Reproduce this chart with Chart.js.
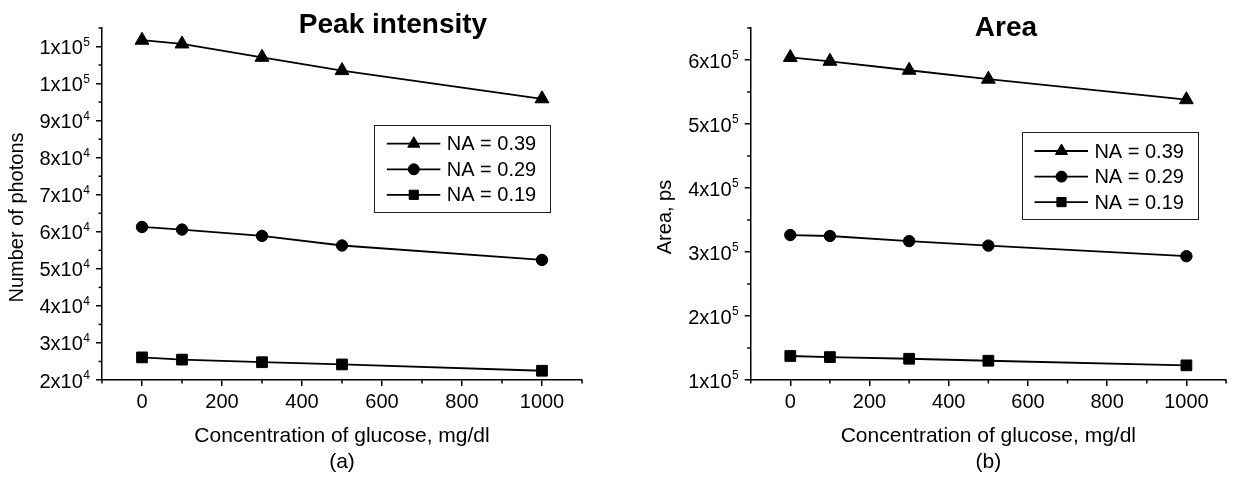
<!DOCTYPE html>
<html>
<head>
<meta charset="utf-8">
<title>Peak intensity / Area vs glucose concentration</title>
<script src="https://cdn.jsdelivr.net/npm/chart.js@4.4.1/dist/chart.umd.min.js"></script>
<style>
  html, body { margin: 0; padding: 0; background: #fff; }
  #wrap { display: flex; width: 1235px; height: 477px; }
  canvas { display: block; }
</style>
</head>
<body>
<div id="wrap">
  <canvas id="chartA" width="617" height="477"></canvas>
  <canvas id="chartB" width="618" height="477"></canvas>
</div>
<script>
// --- Data ---
const concentration = [0, 100, 300, 500, 1000];
const seriesLabels = ['NA = 0.39', 'NA = 0.29', 'NA = 0.19'];
const markerStyles = ['triangle', 'circle', 'rect'];

// (a) Peak intensity (number of photons)
const peakNA039 = [111700, 110700, 107100, 103500, 95900];
const peakNA029 = [61300, 60600, 58900, 56300, 52400];
const peakNA019 = [26100, 25500, 24800, 24200, 22500];

// (b) Area, ps
const areaNA039 = [604000, 598000, 584000, 570000, 538000];
const areaNA029 = [326500, 325000, 317000, 310000, 293500];
const areaNA019 = [137500, 135800, 133200, 130100, 122900];

// axis ticks
const xMajorTicks = [0, 200, 400, 600, 800, 1000];
const xMinorTicks = [-100, 100, 300, 500, 700, 900, 1100];
const peakMajorTicks = [20000, 30000, 40000, 50000, 60000, 70000, 80000, 90000, 100000, 110000];
const peakMinorTicks = [25000, 35000, 45000, 55000, 65000, 75000, 85000, 95000, 105000, 115000];
const areaMajorTicks = [100000, 200000, 300000, 400000, 500000, 600000];
const areaMinorTicks = [150000, 250000, 350000, 450000, 550000, 650000];

// --- common style ---
const FONT = '"Liberation Sans", Arial, sans-serif';
Chart.defaults.font.family = FONT;
Chart.defaults.color = '#000';

const markerRadius = [8, 5.7, 7.6];
const legendRadius = [7, 5.5, 6.5];

// like the original labels: 110000 -> "1x10" + exponent "5"
function sciParts(v) {
  const exp = Math.floor(Math.log10(v));
  const mant = Math.round(v / Math.pow(10, exp));
  return { base: mant + 'x10', exp: String(exp) };
}

function drawMarker(ctx, style, r, x, y) {
  ctx.beginPath();
  if (style === 'triangle') {
    ctx.moveTo(x, y - r);
    ctx.lineTo(x + r * Math.sin(Math.PI / 3), y + r / 2);
    ctx.lineTo(x - r * Math.sin(Math.PI / 3), y + r / 2);
    ctx.closePath();
  } else if (style === 'circle') {
    ctx.arc(x, y, r, 0, Math.PI * 2);
  } else {
    const s = r * Math.SQRT1_2;
    ctx.rect(x - s, y - s, 2 * s, 2 * s);
  }
  ctx.fill();
  ctx.stroke();
}

// minor ticks and the y tick labels with superscript, placed through the chart's scales
function axisPlugin(xMinor, yMinor, labelPad) {
  return {
    id: 'axisExtras',
    afterDatasetsDraw(chart) {
      const ctx = chart.ctx;
      const xs = chart.scales.x, ys = chart.scales.y;
      ctx.save();
      ctx.strokeStyle = '#000';
      ctx.lineWidth = 1.5;
      xMinor.forEach(v => {
        const px = xs.getPixelForValue(v);
        ctx.beginPath(); ctx.moveTo(px, xs.top); ctx.lineTo(px, xs.top + 3.5); ctx.stroke();
      });
      yMinor.forEach(v => {
        const py = ys.getPixelForValue(v);
        ctx.beginPath(); ctx.moveTo(ys.right - 3.5, py); ctx.lineTo(ys.right, py); ctx.stroke();
      });

      ctx.fillStyle = '#000';
      const xr = ys.right - 6 - labelPad;
      ys.ticks.forEach(t => {
        const py = ys.getPixelForValue(t.value);
        const p = sciParts(t.value);
        ctx.font = '12px ' + FONT;
        const we = ctx.measureText(p.exp).width;
        ctx.textAlign = 'left';
        ctx.textBaseline = 'alphabetic';
        ctx.fillText(p.exp, xr - we, py - 1);
        ctx.font = '20px ' + FONT;
        ctx.textAlign = 'right';
        ctx.textBaseline = 'middle';
        ctx.fillText(p.base, xr - we - 0.5, py + 2);
      });
      ctx.restore();
    }
  };
}

function textPlugin(t) {
  return {
    id: 'figureText',
    afterDraw(chart) {
      const ctx = chart.ctx;
      const area = chart.chartArea;
      ctx.save();
      ctx.fillStyle = '#000';
      // title
      ctx.font = 'bold 28px ' + FONT;
      ctx.textAlign = 'center';
      ctx.textBaseline = 'alphabetic';
      ctx.fillText(t.title, t.titleX, t.titleY);
      // y axis title
      ctx.save();
      ctx.translate(t.yTitleX, t.yTitleY);
      ctx.rotate(-Math.PI / 2);
      ctx.font = '20px ' + FONT;
      ctx.textBaseline = 'middle';
      ctx.fillText(t.yTitle, 0, 0);
      ctx.restore();
      // legend box
      const bx = area.left + t.legendDx, by = area.top + t.legendDy;
      ctx.strokeStyle = '#222';
      ctx.lineWidth = 1;
      ctx.strokeRect(Math.round(bx) + 0.5, Math.round(by) + 0.5, 176, 87);
      const rows = [18.7, 44.3, 69.8];
      chart.data.datasets.forEach((ds, i) => {
        const ry = by + rows[i];
        ctx.strokeStyle = '#000';
        ctx.lineWidth = 1.8;
        ctx.beginPath(); ctx.moveTo(bx + 12.5, ry); ctx.lineTo(bx + 66, ry); ctx.stroke();
        ctx.lineWidth = 1;
        drawMarker(ctx, markerStyles[i], legendRadius[i], bx + 39.5, ry);
        ctx.font = '20px ' + FONT;
        ctx.textAlign = 'left';
        ctx.textBaseline = 'middle';
        ctx.fillText(ds.label, bx + 72.4, ry + 1);
      });
      ctx.restore();
    }
  };
}

function makeChart(canvasId, cfg) {
  const datasets = cfg.series.map((vals, i) => ({
    label: seriesLabels[i],
    data: concentration.map((c, j) => ({ x: c, y: vals[j] })),
    borderColor: '#000',
    backgroundColor: '#000',
    borderWidth: 1.8,
    pointStyle: markerStyles[i],
    pointRadius: markerRadius[i],
    pointBorderWidth: 1,
    pointBackgroundColor: '#000',
    pointBorderColor: '#000',
    tension: 0,
    fill: false,
    clip: false
  }));

  return new Chart(document.getElementById(canvasId), {
    type: 'line',
    data: { datasets },
    options: {
      responsive: false,
      animation: false,
      events: [],
      layout: { padding: { top: 28, right: cfg.padRight, bottom: 0, left: 0 } },
      plugins: { legend: { display: false }, tooltip: { enabled: false } },
      scales: {
        x: {
          type: 'linear', min: -100, max: 1100,
          afterBuildTicks: s => { s.ticks = xMajorTicks.map(v => ({ value: v })); },
          afterFit: s => { s.height = 97; },
          grid: { drawOnChartArea: false, drawTicks: true, tickLength: 6, color: '#000', lineWidth: 1.5 },
          border: { display: true, color: '#000', width: 1.5 },
          ticks: { font: { size: 20 }, padding: 4, maxRotation: 0, color: '#000', callback: v => String(v) },
          title: {
            display: true,
            text: ['Concentration of glucose, mg/dl', cfg.panel],
            font: { size: 21, lineHeight: 1.24 },
            padding: { top: 0, bottom: 2 },
            color: '#000'
          }
        },
        y: {
          type: 'linear', min: cfg.yMin, max: cfg.yMax,
          afterBuildTicks: s => { s.ticks = cfg.yMajor.map(v => ({ value: v })); },
          afterFit: s => { s.width = cfg.yWidth; },
          grid: { drawOnChartArea: false, drawTicks: true, tickLength: 6, color: '#000', lineWidth: 1.5 },
          border: { display: true, color: '#000', width: 1.5 },
          ticks: { display: false }
        }
      }
    },
    plugins: [axisPlugin(xMinorTicks, cfg.yMinor, 6), textPlugin(cfg.text)]
  });
}

makeChart('chartA', {
  series: [peakNA039, peakNA029, peakNA019],
  yMin: 20000, yMax: 115000,
  yMajor: peakMajorTicks, yMinor: peakMinorTicks,
  yWidth: 102, padRight: 35,
  panel: '(a)',
  text: { title: 'Peak intensity', titleX: 393, titleY: 32.5,
          yTitle: 'Number of photons', yTitleX: 17, yTitleY: 217.5,
          legendDx: 272.3, legendDy: 97 }
});

makeChart('chartB', {
  series: [areaNA039, areaNA029, areaNA019],
  yMin: 100000, yMax: 650000,
  yMajor: areaMajorTicks, yMinor: areaMinorTicks,
  yWidth: 133.7, padRight: 4.3,
  panel: '(b)',
  text: { title: 'Area', titleX: 389, titleY: 36,
          yTitle: 'Area, ps', yTitleX: 48, yTitleY: 217,
          legendDx: 271.3, legendDy: 104.3 }
});
</script>
</body>
</html>
